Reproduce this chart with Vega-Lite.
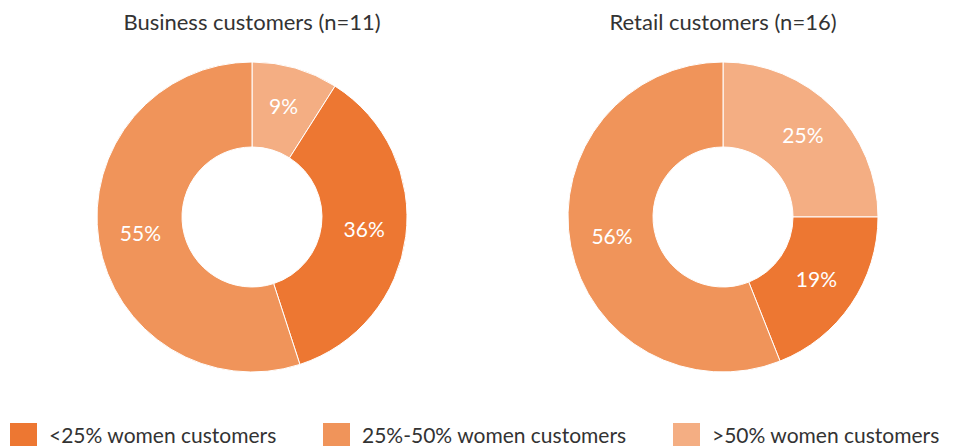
{
  "$schema": "https://vega.github.io/schema/vega-lite/v6.json",
  "padding": {"left": 10, "top": 12, "right": 0, "bottom": 0},
  "autosize": {"type": "pad"},
  "data": {"values": [
    {"group": "Business customers (n=11)", "share": ">50% women customers", "value": 9, "ord": 1, "label": "9%"},
    {"group": "Business customers (n=11)", "share": "<25% women customers", "value": 36, "ord": 2, "label": "36%"},
    {"group": "Business customers (n=11)", "share": "25%-50% women customers", "value": 55, "ord": 3, "label": "55%"},
    {"group": "Retail customers (n=16)", "share": ">50% women customers", "value": 25, "ord": 1, "label": "25%"},
    {"group": "Retail customers (n=16)", "share": "<25% women customers", "value": 19, "ord": 2, "label": "19%"},
    {"group": "Retail customers (n=16)", "share": "25%-50% women customers", "value": 56, "ord": 3, "label": "56%"}
  ]},
  "facet": {
    "column": {
      "field": "group", "type": "nominal",
      "sort": ["Business customers (n=11)", "Retail customers (n=16)"],
      "title": null,
      "header": {"labelFont": "Lato", "labelFontSize": 22, "labelColor": "#333333", "labelPadding": 25}
    }
  },
  "spacing": {"column": 157},
  "spec": {
    "width": 310,
    "height": 310,
    "layer": [
      {
        "mark": {"type": "arc", "innerRadius": 70, "outerRadius": 155, "stroke": "#ffffff", "strokeWidth": 1},
        "encoding": {
          "theta": {"field": "value", "type": "quantitative", "stack": true},
          "order": {"field": "ord", "type": "quantitative"},
          "color": {
            "field": "share", "type": "nominal",
            "scale": {"domain": ["<25% women customers", "25%-50% women customers", ">50% women customers"], "range": ["#ED7732", "#F0945A", "#F4AE83"]},
            "legend": {
              "title": null, "orient": "none", "direction": "horizontal",
              "legendX": -87, "legendY": 361,
              "symbolType": "square", "symbolSize": 729, "symbolStrokeWidth": 0,
              "labelFont": "Lato", "labelFontSize": 21, "labelColor": "#333333",
              "labelOffset": 12, "columnPadding": 46, "labelLimit": 400
            }
          }
        }
      },
      {
        "mark": {"type": "text", "radius": 113, "font": "Lato", "fontSize": 21, "color": "#ffffff"},
        "encoding": {
          "theta": {"field": "value", "type": "quantitative", "stack": true},
          "order": {"field": "ord", "type": "quantitative"},
          "text": {"field": "label", "type": "nominal"}
        }
      }
    ]
  },
  "config": {"view": {"stroke": null}}
}
